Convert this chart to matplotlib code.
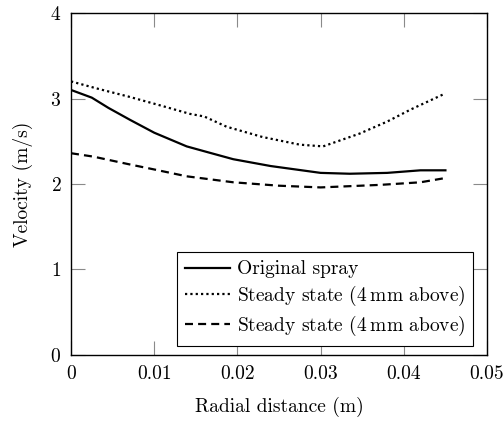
import numpy as np
import matplotlib
matplotlib.use("Agg")
import matplotlib.pyplot as plt

# values
x_orig = [0.0, 0.0025, 0.0045, 0.0071, 0.0100, 0.0139, 0.0165, 0.0195, 0.0240, 0.0300, 0.0335, 0.0380, 0.0420, 0.0450]
v_orig = [3.10, 3.01, 2.89, 2.75, 2.60, 2.44, 2.37, 2.29, 2.21, 2.13, 2.12, 2.13, 2.16, 2.16]

x_dot = [0.0, 0.0030, 0.0070, 0.0107, 0.0143, 0.0160, 0.0187, 0.0230, 0.0275, 0.0303, 0.0347, 0.0380, 0.0408, 0.0450]
v_dot = [3.20, 3.12, 3.02, 2.92, 2.82, 2.79, 2.67, 2.55, 2.46, 2.44, 2.59, 2.73, 2.87, 3.06]

x_dash = [0.0, 0.0027, 0.0070, 0.0100, 0.0139, 0.0195, 0.0250, 0.0300, 0.0372, 0.0420, 0.0450]
v_dash = [2.36, 2.32, 2.23, 2.17, 2.09, 2.02, 1.98, 1.96, 1.99, 2.02, 2.07]

labels = ["Original spray", r"Steady state (4$\:$mm above)", r"Steady state (4$\:$mm above)"]
xticks = [0, 0.01, 0.02, 0.03, 0.04, 0.05]
xtick_labels = ["0", "0.01", "0.02", "0.03", "0.04", "0.05"]
yticks = [0, 1, 2, 3, 4]

plt.rcParams['font.family'] = 'cmr10'
plt.rcParams['mathtext.fontset'] = 'cm'
plt.rcParams['axes.formatter.use_mathtext'] = True
plt.rcParams['font.size'] = 14

fig = plt.figure(figsize=(5.04, 4.21), dpi=100)
ax = fig.add_axes([0.1409, 0.1568, 0.8254, 0.8123])

ax.plot(x_orig, v_orig, color='black', lw=1.6, ls='-', label=labels[0])
ax.plot(x_dot, v_dot, color='black', lw=1.6, ls=(0, (1, 1.4)), label=labels[1])
ax.plot(x_dash, v_dash, color='black', lw=1.6, ls=(0, (3.6, 2.3)), label=labels[2])

ax.set_xlim(0, 0.05)
ax.set_ylim(0, 4)
ax.set_xticks(xticks)
ax.set_xticklabels(xtick_labels)
ax.set_yticks(yticks)

ax.tick_params(direction='in', top=True, right=True, length=10, width=0.8,
               color='#8a8a8a', labelsize=14, pad=7)
for s in ax.spines.values():
    s.set_linewidth(1.0)
    s.set_color('black')

ax.set_xlabel("Radial distance (m)", labelpad=10)
ax.set_ylabel("Velocity (m/s)", labelpad=12)

leg = ax.legend(loc='lower right', bbox_to_anchor=(0.967, 0.027), fancybox=False,
                edgecolor='black', framealpha=1, borderaxespad=0, handlelength=2.3,
                handletextpad=0.35, labelspacing=0.28, borderpad=0.42, fontsize=14)
leg.get_frame().set_linewidth(0.8)

fig.savefig("out.png", dpi=100)
